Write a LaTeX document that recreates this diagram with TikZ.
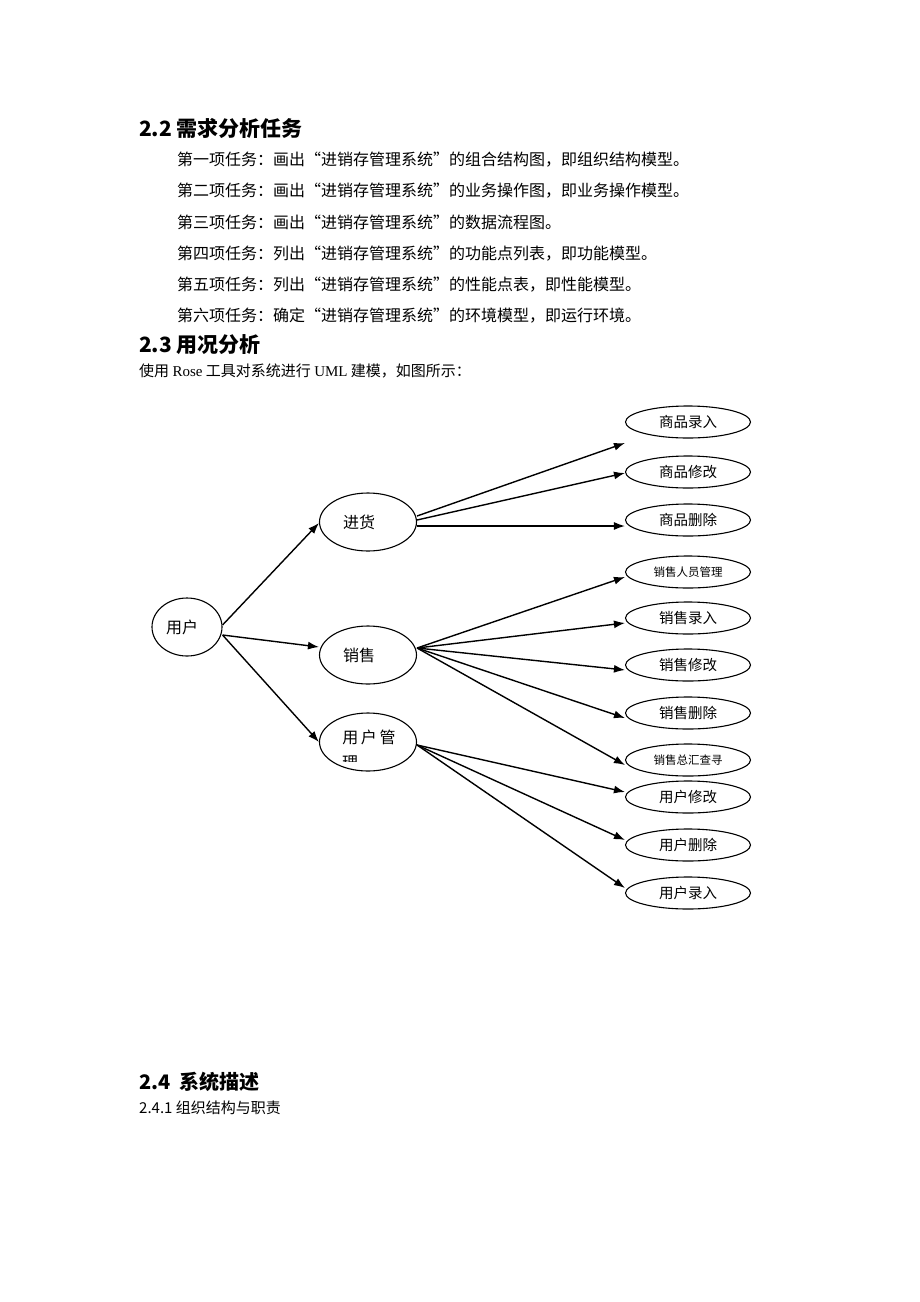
\documentclass[tikz,border=0pt]{standalone}
\usepackage{fontspec}
\setmainfont{Noto Sans CJK SC}
\newfontfamily\latinserif{Liberation Serif}
\usetikzlibrary{arrows.meta,shapes.geometric}

\begin{document}
\begin{tikzpicture}
[x=1pt,y=-1pt,
  lineDecorate/.style={-{Latex[length=11pt,width=8pt]},line width=1.4pt},%
  caseDecorate/.style={shape=ellipse,draw,line width=1.1pt,inner sep=0pt},
  subCase/.style={caseDecorate,minimum width=125pt,minimum height=32pt,font=\fontsize{14.5}{15}\selectfont},
  mainCase/.style={caseDecorate,minimum width=97pt,minimum height=58pt,font=\fontsize{16}{17}\selectfont},
  bodyText/.style={anchor=west,inner sep=0pt,font=\fontsize{16}{16}\selectfont},
  headText/.style={anchor=west,inner sep=0pt,font=\fontsize{21}{21}\selectfont\bfseries}]
\useasboundingbox (0,0) rectangle (920,1302);
%% text of the page
\node[headText] (h22) at (139,128) {2.2 需求分析任务};
\foreach \nodename/\y/\txt in {
  task1/160/第一项任务：画出“进销存管理系统”的组合结构图，即组织结构模型。,
  task2/191/第二项任务：画出“进销存管理系统”的业务操作图，即业务操作模型。,
  task3/222/第三项任务：画出“进销存管理系统”的数据流程图。,
  task4/254/第四项任务：列出“进销存管理系统”的功能点列表，即功能模型。,
  task5/285/第五项任务：列出“进销存管理系统”的性能点表，即性能模型。,
  task6/316/第六项任务：确定“进销存管理系统”的环境模型，即运行环境。}
{
  \node (\nodename) at (177,\y) [bodyText] {\txt};
}
\node[headText] (h23) at (139,345) {2.3 用况分析};
\node[bodyText,font=\fontsize{15}{15}\selectfont] (intro) at (139,371)
  {使用 {\latinserif Rose} 工具对系统进行 {\latinserif UML} 建模，如图所示：};
\node[headText,font=\fontsize{20}{20}\selectfont\bfseries] (h24) at (139,1082) {2.4~~系统描述};
\node[bodyText,font=\fontsize{15}{15}\selectfont] (h241) at (139,1108) {2.4.1 组织结构与职责};
%% nodes or vertices
\node (user) at (187,627) [caseDecorate,minimum width=70pt,minimum height=58pt,font=\fontsize{16}{17}\selectfont] {用户\hspace*{10pt}};
\node (jinhuo) at (368,522) [mainCase] {进货\hspace*{18pt}};
\node (xiaoshou) at (368,655) [mainCase] {销售\hspace*{18pt}};
\node (yhgl) at (368,742) [mainCase] {};
\begin{scope}
  \clip (330,722) rectangle (410,761);
  \node[font=\fontsize{16}{17}\selectfont,inner sep=0pt] (yhglA) at (369,737) {用\,户\,管};
  \node[font=\fontsize{16}{17}\selectfont,inner sep=0pt] (yhglB) at (350,763) {理};
\end{scope}
\foreach \nodename/\y/\txt/\fs in {
  sp1/422/商品录入/14.5, sp2/472/商品修改/14.5, sp3/520/商品删除/14.5,
  xs1/572/销售人员管理/11.5, xs2/618/销售录入/14.5, xs3/665/销售修改/14.5,
  xs4/713/销售删除/14.5, xs5/760/销售总汇查寻/11.5,
  yh1/797/用户修改/14.5, yh2/845/用户删除/14.5, yh3/893/用户录入/14.5}
{
  \node (\nodename) at (688,\y) [subCase,fill=white,font=\fontsize{\fs}{\fs}\selectfont] {\txt};
}
%% edges or lines
\draw[lineDecorate] ([yshift=2pt]user.east) -- ([yshift=-1pt]jinhuo.west);
\draw[lineDecorate] ([yshift=-8pt]user.east) -- ([yshift=8pt]xiaoshou.west);
\draw[lineDecorate] ([yshift=-8pt]user.east) -- (yhgl.west);
\draw[lineDecorate] ([yshift=6pt]jinhuo.east) -- ([yshift=-21pt]sp1.west);
\draw[lineDecorate] ([yshift=2pt]jinhuo.east) -- ([yshift=-1pt]sp2.west);
\draw[lineDecorate] ([yshift=-4pt]jinhuo.east) -- ([yshift=-6pt]sp3.west);
\path
\foreach \startnode/\endnode in {
  xiaoshou/xs1, xiaoshou/xs2, xiaoshou/xs3, xiaoshou/xs4, xiaoshou/xs5}
{
  ([yshift=7pt]\startnode.east) edge[lineDecorate] ([yshift=-5pt]\endnode.west)
};
\path
\foreach \startnode/\endnode in {yhgl/yh1, yhgl/yh2, yhgl/yh3}
{
  ([yshift=-3pt]\startnode.east) edge[lineDecorate] ([yshift=5pt]\endnode.west)
};
\end{tikzpicture}
\end{document}
